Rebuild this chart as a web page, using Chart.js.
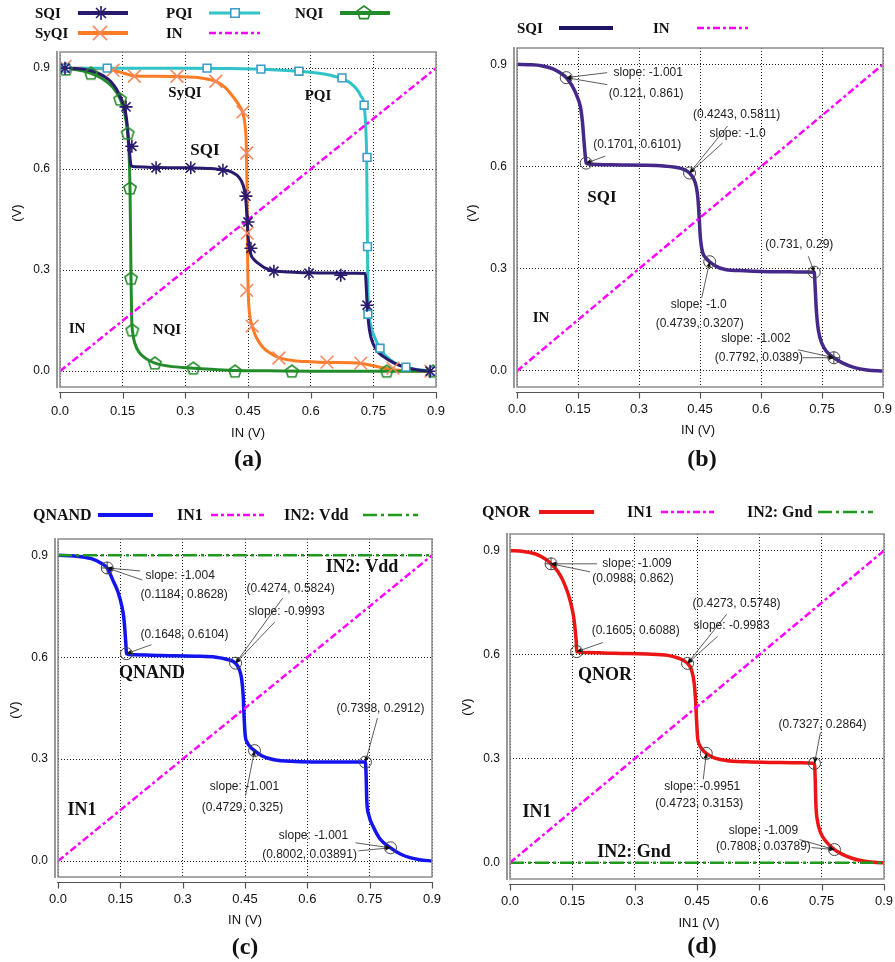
<html>
<head>
<meta charset="utf-8">
<style>
  body { margin: 0; background: #fff; }
  canvas { position: absolute; }
</style>
</head>
<body>
<canvas id="pa" width="447" height="481" style="left:0;top:0"></canvas>
<canvas id="pb" width="448" height="481" style="left:447px;top:0"></canvas>
<canvas id="pc" width="447" height="481" style="left:0;top:481px"></canvas>
<canvas id="pd" width="448" height="481" style="left:447px;top:481px"></canvas>
<script src="https://cdn.jsdelivr.net/npm/chart.js"></script>
<script>
// axes
const xTicks = [0, 0.15, 0.3, 0.45, 0.6, 0.75, 0.9];
const xTickLabels = ['0.0', '0.15', '0.3', '0.45', '0.6', '0.75', '0.9'];
const yTicks = [0, 0.3, 0.6, 0.9];
const yTickLabels = ['0.0', '0.3', '0.6', '0.9'];

// input ramps / rails
const inX = [0, 0.9];
const inY = [0, 0.9];
const railX = [0, 0.9];
const vddY = [0.9, 0.9];
const gndY = [0, 0];

// SQI (panels a, b)
const sqiX = [0, 0.03, 0.06, 0.09, 0.11, 0.121, 0.135, 0.148, 0.156, 0.161, 0.165, 0.168, 0.1701, 0.18, 0.23, 0.313, 0.36, 0.39, 0.41, 0.4243,
  0.434, 0.441, 0.445, 0.448, 0.451, 0.456, 0.464, 0.4739, 0.49, 0.512, 0.56, 0.6, 0.672, 0.71, 0.731, 0.733, 0.736, 0.741, 0.75, 0.762,
  0.7792, 0.8, 0.83, 0.86, 0.9];
const sqiY = [0.9, 0.899, 0.896, 0.886, 0.872, 0.861, 0.838, 0.805, 0.775, 0.73, 0.67, 0.63, 0.6101, 0.607, 0.605, 0.604, 0.602, 0.598, 0.592, 0.5811,
  0.565, 0.54, 0.505, 0.45, 0.39, 0.35, 0.332, 0.3207, 0.307, 0.298, 0.294, 0.292, 0.291, 0.2905, 0.29, 0.25, 0.18, 0.12, 0.08, 0.056,
  0.0389, 0.024, 0.01, 0.003, 0];
const sqiMarkX = [0.012, 0.158, 0.172, 0.23, 0.313, 0.39, 0.445, 0.45, 0.457, 0.512, 0.596, 0.672, 0.735, 0.886];
const sqiMarkY = [0.9, 0.785, 0.668, 0.604, 0.604, 0.597, 0.52, 0.443, 0.365, 0.297, 0.291, 0.285, 0.196, 0.0];

// SyQI
const syqiX = [0, 0.05, 0.1, 0.127, 0.155, 0.178, 0.23, 0.28, 0.33, 0.373, 0.395, 0.415, 0.43, 0.438, 0.443, 0.446, 0.4475, 0.4485, 0.4495, 0.451,
  0.454, 0.46, 0.47, 0.485, 0.5, 0.524, 0.56, 0.6, 0.64, 0.72, 0.75, 0.78, 0.8, 0.83, 0.9];
const syqiY = [0.9, 0.9, 0.898, 0.894, 0.884, 0.877, 0.876, 0.875, 0.872, 0.861, 0.843, 0.814, 0.787, 0.765, 0.73, 0.67, 0.56, 0.42, 0.3, 0.22,
  0.168, 0.134, 0.1, 0.072, 0.056, 0.04, 0.031, 0.028, 0.026, 0.023, 0.016, 0.008, 0.004, 0.001, 0];
const syqiMarkX = [0.012, 0.127, 0.178, 0.28, 0.373, 0.438, 0.447, 0.448, 0.447, 0.46, 0.524, 0.639, 0.72, 0.797, 0.888];
const syqiMarkY = [0.905, 0.894, 0.876, 0.876, 0.861, 0.77, 0.648, 0.41, 0.24, 0.134, 0.039, 0.027, 0.024, 0.009, 0];

// PQI
const pqiX = [0, 0.1, 0.2, 0.3, 0.4, 0.481, 0.572, 0.62, 0.65, 0.675, 0.695, 0.71, 0.72, 0.728, 0.732, 0.734, 0.735, 0.736, 0.737, 0.739,
  0.745, 0.755, 0.766, 0.78, 0.8, 0.828, 0.86, 0.9];
const pqiY = [0.9, 0.9, 0.9, 0.9, 0.899, 0.897, 0.891, 0.885, 0.878, 0.869, 0.856, 0.838, 0.818, 0.79, 0.72, 0.635, 0.5, 0.37, 0.25, 0.18,
  0.13, 0.095, 0.068, 0.045, 0.026, 0.012, 0.004, 0];
const pqiMarkX = [0.014, 0.113, 0.352, 0.481, 0.572, 0.675, 0.728, 0.735, 0.736, 0.737, 0.766, 0.828, 0.895];
const pqiMarkY = [0.9, 0.9, 0.9, 0.897, 0.891, 0.871, 0.79, 0.635, 0.37, 0.169, 0.068, 0.012, 0.0];

// NQI
const nqiX = [0, 0.04, 0.074, 0.1, 0.125, 0.144, 0.155, 0.162, 0.1655, 0.1675, 0.169, 0.17, 0.1715, 0.174, 0.18, 0.19, 0.205, 0.227, 0.26, 0.319,
  0.37, 0.419, 0.5, 0.6, 0.9];
const nqiY = [0.9, 0.895, 0.885, 0.87, 0.845, 0.808, 0.765, 0.707, 0.64, 0.544, 0.4, 0.276, 0.16, 0.115, 0.08, 0.055, 0.038, 0.024, 0.015, 0.009,
  0.005, 0.002, 0.001, 0, 0];
const nqiMarkX = [0.014, 0.074, 0.144, 0.162, 0.1675, 0.17, 0.173, 0.227, 0.319, 0.419, 0.555, 0.782, 0.893];
const nqiMarkY = [0.897, 0.885, 0.808, 0.707, 0.544, 0.276, 0.122, 0.024, 0.009, 0.0, 0.0, 0.0, 0.0];

// QNAND
const qnandX = [0, 0.04, 0.08, 0.105, 0.1184, 0.132, 0.145, 0.154, 0.158, 0.161, 0.1635, 0.1648, 0.18, 0.25, 0.33, 0.38, 0.405, 0.4274, 0.436, 0.442,
  0.4455, 0.448, 0.4505, 0.455, 0.462, 0.4729, 0.49, 0.52, 0.57, 0.65, 0.72, 0.7398, 0.7415, 0.743, 0.748, 0.759, 0.775, 0.8002, 0.825, 0.847,
  0.87, 0.9];
const qnandY = [0.9, 0.898, 0.89, 0.876, 0.8628, 0.827, 0.79, 0.748, 0.72, 0.68, 0.635, 0.6104, 0.607, 0.605, 0.603, 0.6, 0.594, 0.5824, 0.565, 0.535,
  0.49, 0.42, 0.37, 0.35, 0.337, 0.325, 0.31, 0.298, 0.293, 0.2915, 0.2913, 0.2912, 0.25, 0.18, 0.135, 0.1, 0.065, 0.03891, 0.02, 0.01,
  0.004, 0];

// QNOR
const qnorX = [0, 0.03, 0.06, 0.085, 0.0988, 0.115, 0.127, 0.14, 0.148, 0.153, 0.157, 0.1595, 0.1605, 0.18, 0.25, 0.33, 0.38, 0.405, 0.4273, 0.437,
  0.443, 0.4465, 0.449, 0.4515, 0.456, 0.463, 0.4723, 0.49, 0.52, 0.57, 0.64, 0.7, 0.7327, 0.7345, 0.736, 0.74, 0.748, 0.76, 0.7808, 0.8,
  0.825, 0.85, 0.875, 0.9];
const qnorY = [0.9, 0.898, 0.891, 0.876, 0.862, 0.84, 0.815, 0.775, 0.74, 0.71, 0.67, 0.635, 0.6088, 0.606, 0.604, 0.602, 0.598, 0.59, 0.5748, 0.555,
  0.52, 0.47, 0.41, 0.36, 0.34, 0.326, 0.3153, 0.303, 0.295, 0.291, 0.289, 0.288, 0.2864, 0.24, 0.17, 0.12, 0.085, 0.062, 0.03789, 0.024,
  0.012, 0.005, 0.001, 0];

// marked points with slope readouts
const sqiNoteX = [0.121, 0.1701, 0.4243, 0.4739, 0.731, 0.7792];
const sqiNoteY = [0.861, 0.6101, 0.5811, 0.3207, 0.29, 0.0389];
const sqiNoteSlope = ['-1.001', '', '-1.0', '-1.0', '', '-1.002'];
const qnandNoteX = [0.1184, 0.1648, 0.4274, 0.4729, 0.7398, 0.8002];
const qnandNoteY = [0.8628, 0.6104, 0.5824, 0.325, 0.2912, 0.03891];
const qnandNoteSlope = ['-1.004', '', '-0.9993', '-1.001', '', '-1.001'];
const qnorNoteX = [0.0988, 0.1605, 0.4273, 0.4723, 0.7327, 0.7808];
const qnorNoteY = [0.862, 0.6088, 0.5748, 0.3153, 0.2864, 0.03789];
const qnorNoteSlope = ['-1.009', '', '-0.9983', '-0.9951', '', '-1.009'];

// colours
const cSqi = '#2a1a6e', cSqiB = '#45288a', cPqi = '#30c4c8', cPqiMark = '#3a9ec8';
const cNqi = '#238c2a', cSyqi = '#ff7b24', cSyqiMark = '#f5895c';
const cIn = '#ff00ff', cRail = '#1f9a1f', cNand = '#1414f0', cNor = '#ec1414';
const inDash = [7, 3, 3, 3], railDash = [14, 4, 3, 4];

// layout of each panel (canvas pixels)
const panels = {
  pa: {
    area: { left: 60, right: 436, top: 52, bottom: 387 }, xPad: 17, yPad: 10,
    yTitle: [17, 213], xTitle: ['IN (V)', 248, 433], sub: ['(a)', 248, 460], legendSize: 15,
    legend: [
      { text: 'SQI', tx: 35, ty: 13, x1: 78, x2: 128, color: cSqi, w: 4, mark: { style: 'star', color: cSqi, r: 7, mx: 101 } },
      { text: 'PQI', tx: 166, ty: 13, x1: 209, x2: 260, color: cPqi, w: 3, mark: { style: 'rect', color: cPqiMark, r: 6, mx: 235, fill: '#fff' } },
      { text: 'NQI', tx: 295, ty: 13, x1: 340, x2: 390, color: cNqi, w: 4, mark: { style: 'pentagon', color: cNqi, r: 7, mx: 364 } },
      { text: 'SyQI', tx: 35, ty: 33, x1: 78, x2: 128, color: cSyqi, w: 4, mark: { style: 'crossRot', color: cSyqiMark, r: 10, mx: 100 } },
      { text: 'IN', tx: 166, ty: 33, x1: 209, x2: 260, color: cIn, w: 2.5, dash: inDash }
    ],
    labels: [['SyQI', 185, 93, 15], ['PQI', 318, 96, 15], ['SQI', 205, 151, 17], ['IN', 77, 329, 15], ['NQI', 167, 330, 15]]
  },
  pb: {
    area: { left: 70, right: 436, top: 48, bottom: 387 }, xPad: 15, yPad: 10,
    yTitle: [25, 213], xTitle: ['IN (V)', 251, 430], sub: ['(b)', 255, 460], legendSize: 15,
    legend: [
      { text: 'SQI', tx: 70, ty: 28, x1: 112, x2: 166, color: '#1e1464', w: 4 },
      { text: 'IN', tx: 206, ty: 28, x1: 250, x2: 301, color: cIn, w: 2.5, dash: inDash }
    ],
    labels: [['SQI', 155, 198, 17], ['IN', 94, 318, 15]],
    noteX: sqiNoteX, noteY: sqiNoteY, noteSlope: sqiNoteSlope,
    notes: [
      { slope: [82, -5], coord: [80, 16], leads: [[41, -5], [41, 7]] },
      { coord: [51, -18], leads: [[19, -7]] },
      { coord: [47, -58], slope: [48, -39], leads: [[38, -47], [33, -30]] },
      { slope: [-11, 43], coord: [-10, 62], leads: [[-8, 36]] },
      { coord: [-15, -27], leads: [[-6, -16]] },
      { slope: [-78, -19], coord: [-75, 0], leads: [[-36, -8], [-31, 0]], cross: true }
    ]
  },
  pc: {
    area: { left: 58, right: 432, top: 58, bottom: 396 }, xPad: 15, yPad: 10,
    yTitle: [15, 229], xTitle: ['IN (V)', 245, 439], sub: ['(c)', 245, 467], legendSize: 16,
    legend: [
      { text: 'QNAND', tx: 33, ty: 34, x1: 98, x2: 153, color: cNand, w: 4 },
      { text: 'IN1', tx: 177, ty: 34, x1: 211, x2: 264, color: cIn, w: 2.5, dash: inDash },
      { text: 'IN2: Vdd', tx: 284, ty: 34, x1: 363, x2: 418, color: cRail, w: 2.5, dash: railDash }
    ],
    labels: [['IN2: Vdd', 362, 86, 18], ['QNAND', 152, 192, 18], ['IN1', 82, 329, 18]],
    noteX: qnandNoteX, noteY: qnandNoteY, noteSlope: qnandNoteSlope,
    notes: [
      { slope: [73, 8], coord: [77, 27], leads: [[33, 3], [35, 12]], cross: true },
      { coord: [58, -19], leads: [[25, -9]] },
      { coord: [55, -75], slope: [51, -52], leads: [[47, -65], [39, -41]] },
      { slope: [-10, 36], coord: [-12, 57], leads: [[-9, 45]] },
      { coord: [15, -53], leads: [[12, -44]] },
      { slope: [-77, -12], coord: [-81, 7], leads: [[-35, -5], [-32, 3]] }
    ]
  },
  pd: {
    area: { left: 63, right: 437, top: 53, bottom: 398 }, xPad: 15, yPad: 10,
    yTitle: [20, 226], xTitle: ['IN1 (V)', 252, 442], sub: ['(d)', 255, 466], legendSize: 16,
    legend: [
      { text: 'QNOR', tx: 35, ty: 31, x1: 92, x2: 147, color: cNor, w: 4 },
      { text: 'IN1', tx: 180, ty: 31, x1: 214, x2: 267, color: cIn, w: 2.5, dash: inDash },
      { text: 'IN2: Gnd', tx: 300, ty: 31, x1: 371, x2: 426, color: cRail, w: 2.5, dash: railDash }
    ],
    labels: [['QNOR', 158, 194, 18], ['IN1', 90, 331, 18], ['IN2: Gnd', 187, 371, 18]],
    noteX: qnorNoteX, noteY: qnorNoteY, noteSlope: qnorNoteSlope,
    notes: [
      { slope: [86, 0], coord: [82, 15], leads: [[46, 0], [39, 8]], cross: true },
      { coord: [59, -21], leads: [[26, -9]] },
      { coord: [49, -60], slope: [44, -38], leads: [[39, -49], [30, -27]] },
      { slope: [-4, 33], coord: [-7, 50], leads: [[-3, 26]] },
      { coord: [8, -39], leads: [[6, -31]] },
      { slope: [-71, -19], coord: [-71, -3], leads: [[-35, -10], [-23, -2]] }
    ]
  }
};

function pentagonPath(ctx, x, y, r) {
  for (let k = 0; k < 5; k++) {
    const t = -Math.PI / 2 + k * 2 * Math.PI / 5;
    const px = x + r * Math.cos(t), py = y + r * Math.sin(t);
    if (k === 0) ctx.moveTo(px, py); else ctx.lineTo(px, py);
  }
  ctx.closePath();
}

function drawMark(ctx, m, x, y) {
  ctx.save();
  ctx.strokeStyle = m.color;
  ctx.lineWidth = 1.6;
  ctx.setLineDash([]);
  ctx.beginPath();
  const r = m.r, s = r * Math.SQRT1_2;
  if (m.style === 'star') {
    for (let k = 0; k < 4; k++) {
      const t = k * Math.PI / 4;
      ctx.moveTo(x - r * Math.cos(t), y - r * Math.sin(t));
      ctx.lineTo(x + r * Math.cos(t), y + r * Math.sin(t));
    }
  } else if (m.style === 'rect') {
    ctx.rect(x - s, y - s, 2 * s, 2 * s);
  } else if (m.style === 'crossRot') {
    ctx.moveTo(x - s, y - s); ctx.lineTo(x + s, y + s);
    ctx.moveTo(x + s, y - s); ctx.lineTo(x - s, y + s);
  } else if (m.style === 'pentagon') {
    pentagonPath(ctx, x, y, r);
  }
  if (m.fill) { ctx.fillStyle = m.fill; ctx.fill(); }
  ctx.stroke();
  ctx.restore();
}

// pentagon point style as an image
const pentaImg = document.createElement('canvas');
pentaImg.width = 18; pentaImg.height = 18;
drawMark(pentaImg.getContext('2d'), { style: 'pentagon', color: cNqi, r: 6.5 }, 9, 9.5);

function arrowTo(ctx, x0, y0, x1, y1) {
  const a = Math.atan2(y1 - y0, x1 - x0), L = 5, W = 2.2;
  ctx.beginPath();
  ctx.moveTo(x1, y1);
  ctx.lineTo(x1 - L * Math.cos(a) + W * Math.sin(a), y1 - L * Math.sin(a) - W * Math.cos(a));
  ctx.lineTo(x1 - L * Math.cos(a) - W * Math.sin(a), y1 - L * Math.sin(a) + W * Math.cos(a));
  ctx.closePath();
  ctx.fill();
}

const decor = {
  id: 'decor',
  afterDatasetsDraw(chart) {
    const p = panels[chart.canvas.id];
    const ctx = chart.ctx, a = chart.chartArea;
    const sx = chart.scales.x, sy = chart.scales.y;
    ctx.save();

    // frame and offset axes
    ctx.strokeStyle = '#8c8c8c';
    ctx.lineWidth = 1.5;
    ctx.strokeRect(a.left, a.top, a.right - a.left, a.bottom - a.top);
    ctx.strokeStyle = '#555';
    ctx.lineWidth = 1.2;
    ctx.beginPath();
    ctx.moveTo(a.left - 3, a.top - 1);
    ctx.lineTo(a.left - 3, a.bottom + 1);
    const ay = a.bottom + 5.5;
    ctx.moveTo(a.left - 1, ay);
    ctx.lineTo(a.right + 1, ay);
    xTicks.forEach(v => {
      const px = Math.round(sx.getPixelForValue(v)) + 0.5;
      ctx.moveTo(px, ay);
      ctx.lineTo(px, ay + 6);
    });
    ctx.stroke();

    // marked points
    if (p.notes) {
      ctx.font = '12px "Liberation Sans", Arial, sans-serif';
      ctx.textAlign = 'center';
      ctx.textBaseline = 'middle';
      p.notes.forEach((n, i) => {
        const px = sx.getPixelForValue(p.noteX[i]);
        const py = sy.getPixelForValue(p.noteY[i]);
        ctx.strokeStyle = '#444';
        ctx.lineWidth = 1;
        ctx.beginPath();
        ctx.arc(px, py, 6, 0, Math.PI * 2);
        if (n.cross) {
          ctx.moveTo(px - 6, py); ctx.lineTo(px + 6, py);
          ctx.moveTo(px, py - 6); ctx.lineTo(px, py + 6);
        }
        ctx.stroke();
        ctx.strokeStyle = '#333';
        ctx.fillStyle = '#111';
        ctx.lineWidth = 0.8;
        n.leads.forEach(l => {
          const x0 = px + l[0], y0 = py + l[1];
          ctx.beginPath();
          ctx.moveTo(x0, y0);
          ctx.lineTo(px, py);
          ctx.stroke();
          arrowTo(ctx, x0, y0, px, py);
        });
        ctx.fillStyle = '#222';
        if (n.slope) ctx.fillText('slope: ' + p.noteSlope[i], px + n.slope[0], py + n.slope[1]);
        ctx.fillText('(' + p.noteX[i] + ', ' + p.noteY[i] + ')', px + n.coord[0], py + n.coord[1]);
      });
    }

    // curve labels
    ctx.fillStyle = '#111';
    ctx.textAlign = 'center';
    ctx.textBaseline = 'middle';
    p.labels.forEach(l => {
      ctx.font = 'bold ' + l[3] + 'px "Liberation Serif", "Times New Roman", serif';
      ctx.fillText(l[0], l[1], l[2]);
    });

    // legend
    p.legend.forEach(it => {
      ctx.font = 'bold ' + p.legendSize + 'px "Liberation Serif", "Times New Roman", serif';
      ctx.textAlign = 'left';
      ctx.fillStyle = '#111';
      ctx.fillText(it.text, it.tx, it.ty + 1);
      ctx.strokeStyle = it.color;
      ctx.lineWidth = it.w;
      ctx.setLineDash(it.dash || []);
      ctx.beginPath();
      ctx.moveTo(it.x1, it.ty);
      ctx.lineTo(it.x2, it.ty);
      ctx.stroke();
      ctx.setLineDash([]);
      if (it.mark) drawMark(ctx, it.mark, it.mark.mx, it.ty);
    });

    // axis titles and panel tag
    ctx.fillStyle = '#111';
    ctx.font = '13px "Liberation Sans", Arial, sans-serif';
    ctx.textAlign = 'center';
    ctx.fillText(p.xTitle[0], p.xTitle[1], p.xTitle[2]);
    ctx.save();
    ctx.translate(p.yTitle[0], p.yTitle[1]);
    ctx.rotate(-Math.PI / 2);
    ctx.fillText('(V)', 0, 0);
    ctx.restore();
    ctx.font = 'bold 24px "Liberation Serif", "Times New Roman", serif';
    ctx.fillText(p.sub[0], p.sub[1], p.sub[2]);
    ctx.restore();
  }
};

const pts = (xs, ys) => xs.map((x, i) => ({ x: x, y: ys[i] }));

function curve(xs, ys, color, width, order, extra) {
  return Object.assign({
    data: pts(xs, ys), borderColor: color, borderWidth: width, pointRadius: 0,
    cubicInterpolationMode: 'monotone', fill: false, order: order
  }, extra || {});
}

function marks(xs, ys, style, color, r, order, fill) {
  return {
    data: pts(xs, ys), showLine: false, pointStyle: style, pointRadius: r,
    pointBorderColor: color, pointBackgroundColor: fill || 'rgba(0,0,0,0)', pointBorderWidth: 1.6,
    borderColor: color, backgroundColor: 'rgba(0,0,0,0)', order: order
  };
}

function makeChart(id, datasets) {
  const p = panels[id];
  const cv = document.getElementById(id);
  // label gaps come from invisible tick marks so they do not shrink the plot box
  return new Chart(cv, {
    type: 'line',
    data: { datasets: datasets },
    options: {
      responsive: false,
      animation: false,
      events: [],
      layout: { padding: { left: 0, top: p.area.top, right: cv.width - p.area.right, bottom: 0 } },
      plugins: { legend: { display: false }, tooltip: { enabled: false } },
      scales: {
        x: {
          type: 'linear', min: 0, max: 0.9,
          afterBuildTicks: s => { s.ticks = xTicks.map(v => ({ value: v })); },
          afterFit: s => { s.height = cv.height - p.area.bottom; },
          ticks: {
            callback: (v, i) => xTickLabels[i], padding: 0,
            font: { family: '"Liberation Sans", Arial, sans-serif', size: 13 }, color: '#111',
            maxRotation: 0, autoSkip: false
          },
          grid: { color: '#222', lineWidth: 1, drawTicks: true, tickLength: p.xPad, tickColor: 'rgba(0,0,0,0)' },
          border: { display: false, dash: [1, 2] }
        },
        y: {
          type: 'linear', min: -0.047, max: 0.948,
          afterBuildTicks: s => { s.ticks = yTicks.map(v => ({ value: v })); },
          afterFit: s => { s.width = p.area.left; },
          ticks: {
            callback: (v, i) => yTickLabels[i], padding: 0,
            font: { family: '"Liberation Sans", Arial, sans-serif', size: 12 }, color: '#111', autoSkip: false
          },
          grid: { color: '#222', lineWidth: 1, drawTicks: true, tickLength: p.yPad, tickColor: 'rgba(0,0,0,0)' },
          border: { display: false, dash: [1, 2] }
        }
      }
    },
    plugins: [decor]
  });
}

// (a)
makeChart('pa', [
  marks(sqiMarkX, sqiMarkY, 'star', cSqi, 6.5, 0),
  marks(pqiMarkX, pqiMarkY, 'rect', cPqiMark, 5.5, 1, '#fff'),
  marks(syqiMarkX, syqiMarkY, 'crossRot', cSyqiMark, 9, 2),
  marks(nqiMarkX, nqiMarkY, pentaImg, cNqi, 6.5, 3),
  curve(inX, inY, cIn, 2.5, 4, { borderDash: inDash, cubicInterpolationMode: 'default' }),
  curve(sqiX, sqiY, cSqi, 3, 5),
  curve(nqiX, nqiY, cNqi, 3, 6),
  curve(pqiX, pqiY, cPqi, 3, 7),
  curve(syqiX, syqiY, cSyqi, 3, 8)
]);

// (b)
makeChart('pb', [
  curve(inX, inY, cIn, 2.5, 1, { borderDash: inDash, cubicInterpolationMode: 'default' }),
  curve(sqiX, sqiY, cSqiB, 3.5, 2)
]);

// (c)
makeChart('pc', [
  curve(inX, inY, cIn, 2.5, 1, { borderDash: inDash, cubicInterpolationMode: 'default' }),
  curve(railX, vddY, cRail, 2.5, 2, { borderDash: railDash, cubicInterpolationMode: 'default' }),
  curve(qnandX, qnandY, cNand, 3.5, 3)
]);

// (d)
makeChart('pd', [
  curve(inX, inY, cIn, 2.5, 1, { borderDash: inDash, cubicInterpolationMode: 'default' }),
  curve(railX, gndY, cRail, 2.5, 2, { borderDash: railDash, cubicInterpolationMode: 'default' }),
  curve(qnorX, qnorY, cNor, 3.5, 3)
]);
</script>
</body>
</html>
